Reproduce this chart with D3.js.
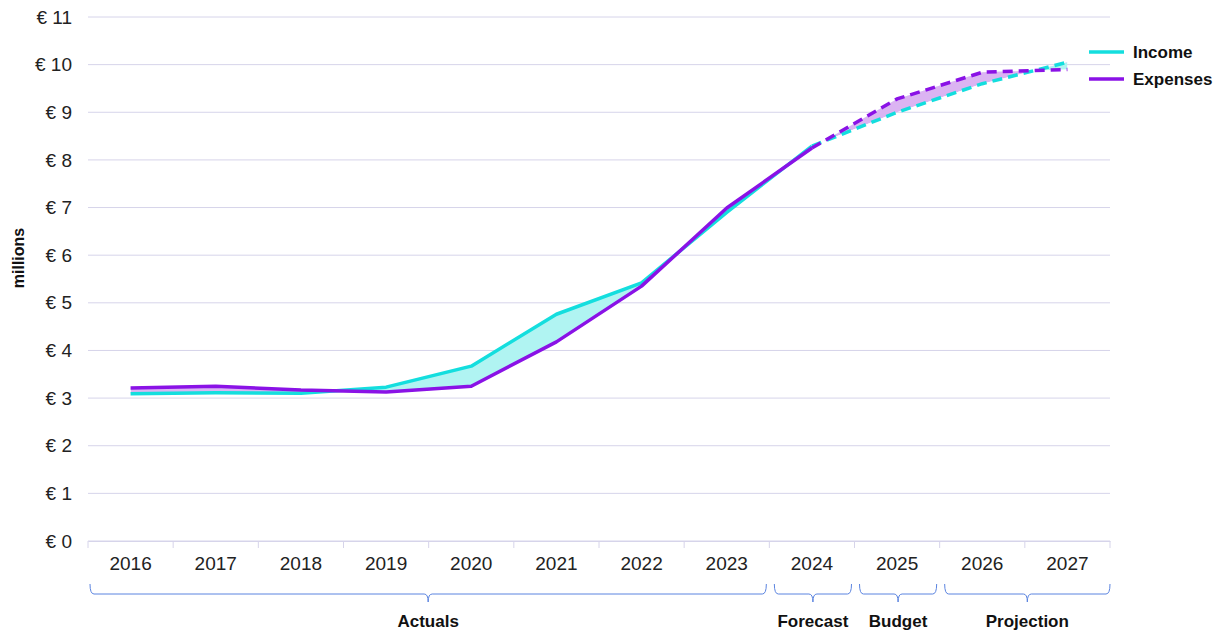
<!DOCTYPE html>
<html>
<head>
<meta charset="utf-8">
<script src="https://cdn.jsdelivr.net/npm/d3@7"></script>
<style>
  body { margin: 0; background: #fff; }
  svg { display: block; font-family: "Liberation Sans", Arial, sans-serif; }
</style>
</head>
<body>
<svg id="chart" width="1224" height="635"></svg>
<script>
const years = ["2016", "2017", "2018", "2019", "2020", "2021", "2022", "2023", "2024", "2025", "2026", "2027"];
const income = [3.09, 3.11, 3.10, 3.23, 3.67, 4.76, 5.42, 6.90, 8.29, 9.00, 9.60, 10.05];
const expenses = [3.21, 3.25, 3.17, 3.13, 3.25, 4.18, 5.35, 6.99, 8.25, 9.28, 9.84, 9.90];
const yTicks = [0, 1, 2, 3, 4, 5, 6, 7, 8, 9, 10, 11];
const lastActual = "2024"; // solid up to here, dashed after
const phases = [
    { label: "Actuals", from: "2016", to: "2023" },
    { label: "Forecast", from: "2024", to: "2024" },
    { label: "Budget", from: "2025", to: "2025" },
    { label: "Projection", from: "2026", to: "2027" }
];

const incomeColor = "#14dede";
const expenseColor = "#8a12e6";
const gridColor = "#d6d4ea";
const braceColor = "#5b84e0";

const svg = d3.select("#chart");
const margin = { top: 17, right: 114, bottom: 94, left: 88 };
const width = +svg.attr("width");
const height = +svg.attr("height");
const innerWidth = width - margin.left - margin.right;
const innerHeight = height - margin.top - margin.bottom;

const g = svg.append("g")
    .attr("transform", `translate(${margin.left},${margin.top})`);

const x = d3.scaleBand().domain(years).range([0, innerWidth]).padding(0);
const y = d3.scaleLinear().domain([0, 11]).range([innerHeight, 0]);
const cx = d => x(d) + x.bandwidth() / 2;

// gridlines
g.append("g")
    .selectAll("line")
    .data(yTicks)
    .join("line")
    .attr("x1", 0)
    .attr("x2", innerWidth)
    .attr("y1", d => y(d))
    .attr("y2", d => y(d))
    .attr("stroke", gridColor)
    .attr("stroke-width", 1);

// y labels
g.append("g")
    .selectAll("text")
    .data(yTicks)
    .join("text")
    .attr("x", -16)
    .attr("y", d => y(d))
    .attr("dy", "0.35em")
    .attr("text-anchor", "end")
    .attr("font-size", 19)
    .attr("fill", "#222")
    .text(d => "€ " + d);

svg.append("text")
    .attr("transform", "translate(24,258) rotate(-90)")
    .attr("text-anchor", "middle")
    .attr("font-size", 16)
    .attr("font-weight", "700")
    .attr("fill", "#111")
    .text("millions");

// x axis
const xAxis = g.append("g")
    .attr("transform", `translate(0,${innerHeight})`)
    .call(d3.axisBottom(x).tickSize(0).tickPadding(16));
xAxis.select(".domain").attr("stroke", gridColor);
xAxis.selectAll("text")
    .attr("font-size", 19)
    .attr("font-family", "Liberation Sans, Arial, sans-serif")
    .attr("fill", "#222");
xAxis.selectAll(".sep")
    .data(d3.range(years.length + 1))
    .join("line")
    .attr("class", "sep")
    .attr("x1", i => i * x.bandwidth())
    .attr("x2", i => i * x.bandwidth())
    .attr("y1", 0)
    .attr("y2", 7)
    .attr("stroke", gridColor);

const rows = years.map((yr, i) => ({ year: yr, inc: income[i], exp: expenses[i] }));

// fill between lines
const defs = svg.append("defs");
const aboveExp = d3.area().x(d => cx(d.year)).y0(0).y1(d => y(d.exp));
const aboveInc = d3.area().x(d => cx(d.year)).y0(0).y1(d => y(d.inc));
defs.append("clipPath").attr("id", "clipInc").append("path").attr("d", aboveExp(rows));
defs.append("clipPath").attr("id", "clipExp").append("path").attr("d", aboveInc(rows));

const between = d3.area().x(d => cx(d.year)).y0(d => y(d.exp)).y1(d => y(d.inc));
g.append("path")
    .attr("d", between(rows))
    .attr("fill", "#b0f4f2")
    .attr("clip-path", "url(#clipInc)");
g.append("path")
    .attr("d", between(rows))
    .attr("fill", "#dbb4f2")
    .attr("clip-path", "url(#clipExp)");

// lines
const cut = years.indexOf(lastActual);
const series = [
    { key: "inc", color: incomeColor },
    { key: "exp", color: expenseColor }
];
const line = key => d3.line().x(d => cx(d.year)).y(d => y(d[key]));
series.forEach(s => {
    g.append("path")
        .attr("d", line(s.key)(rows.slice(0, cut + 1)))
        .attr("fill", "none")
        .attr("stroke", s.color)
        .attr("stroke-width", 3.5)
        .attr("stroke-linejoin", "round");
    g.append("path")
        .attr("d", line(s.key)(rows.slice(cut)))
        .attr("fill", "none")
        .attr("stroke", s.color)
        .attr("stroke-width", 3.5)
        .attr("stroke-dasharray", "10,6");
});

// phase braces
const braceY = innerHeight + 43;
function bracePath(x0, x1, yTop) {
    const mid = (x0 + x1) / 2;
    const h = 10, r = 4;
    return `M${x0},${yTop} Q${x0},${yTop + h} ${x0 + r},${yTop + h}` +
        ` L${mid - r},${yTop + h} Q${mid},${yTop + h} ${mid},${yTop + h + 8}` +
        ` Q${mid},${yTop + h} ${mid + r},${yTop + h}` +
        ` L${x1 - r},${yTop + h} Q${x1},${yTop + h} ${x1},${yTop}`;
}
phases.forEach((p, i) => {
    const x0 = x(p.from) + (i === 0 ? 2 : 5);
    const x1 = x(p.to) + x.bandwidth() - (i === phases.length - 1 ? 0 : 3);
    g.append("path")
        .attr("d", bracePath(x0, x1, braceY))
        .attr("fill", "none")
        .attr("stroke", braceColor)
        .attr("stroke-width", 1);
    g.append("text")
        .attr("x", (x0 + x1) / 2)
        .attr("y", braceY + 37)
        .attr("dy", "0.35em")
        .attr("text-anchor", "middle")
        .attr("font-size", 17)
        .attr("font-weight", "700")
        .attr("fill", "#111")
        .text(p.label);
});

// legend
const legend = svg.append("g").attr("transform", "translate(1089,52)");
[{ name: "Income", color: incomeColor }, { name: "Expenses", color: expenseColor }].forEach((d, i) => {
    const row = legend.append("g").attr("transform", `translate(0,${i * 27})`);
    row.append("line")
        .attr("x1", 0).attr("x2", 35)
        .attr("stroke", d.color)
        .attr("stroke-width", 3.5);
    row.append("text")
        .attr("x", 44)
        .attr("dy", "0.35em")
        .attr("font-size", 17)
        .attr("font-weight", "700")
        .attr("fill", "#111")
        .text(d.name);
});
</script>
</body>
</html>
